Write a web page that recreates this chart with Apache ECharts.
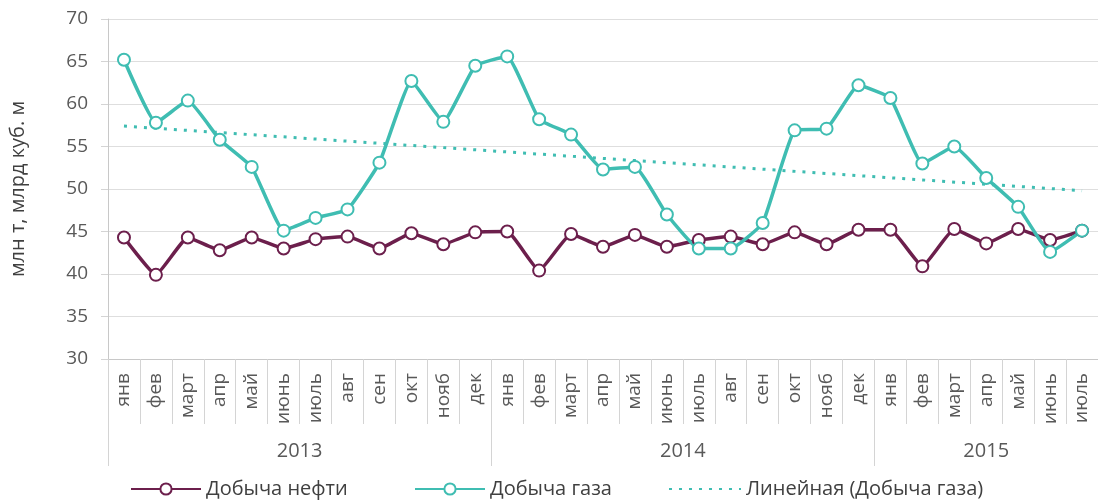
<!DOCTYPE html>
<html>
<head>
<meta charset="utf-8">
<script src="https://cdn.jsdelivr.net/npm/echarts@6/dist/echarts.min.js"></script>
<style>
  html, body { margin: 0; padding: 0; background: #fff; }
  #main { width: 1098px; height: 504px; }
</style>
</head>
<body>
<div id="main"></div>
<script>
var monthNames = ['янв', 'фев', 'март', 'апр', 'май', 'июнь', 'июль', 'авг', 'сен', 'окт', 'нояб', 'дек'];
var years = ['2013', '2014', '2015'];
var yearCounts = [12, 12, 7];

var oil = [44.3, 39.9, 44.3, 42.8, 44.3, 43.0, 44.1, 44.4, 43.0, 44.8, 43.5, 44.9,
           45.0, 40.4, 44.7, 43.2, 44.6, 43.2, 44.0, 44.4, 43.5, 44.9, 43.5, 45.2,
           45.2, 40.9, 45.3, 43.6, 45.3, 44.0, 45.1];
var gas = [65.2, 57.8, 60.4, 55.8, 52.6, 45.1, 46.6, 47.6, 53.1, 62.7, 57.9, 64.5,
           65.6, 58.2, 56.4, 52.3, 52.6, 47.0, 43.0, 43.0, 46.0, 56.9, 57.1, 62.2,
           60.7, 53.0, 55.0, 51.3, 47.9, 42.6, 45.1];
// концы линии тренда
var trendEnds = [57.4, 49.8];

var oilColor = '#6c1f4c';
var gasColor = '#3fbdb2';
var textColor = '#595959';
var font = 'Open Sans';

// категории: год-месяц
var categories = [];
years.forEach(function (y, i) {
  for (var m = 0; m < yearCounts[i]; m++) categories.push(y + '-' + monthNames[m]);
});
var total = categories.length;

// позиции подписей годов и разделителей
var yearTicks = [], yearCenters = [], acc = 0;
yearCounts.forEach(function (c) {
  yearTicks.push(acc);
  yearCenters.push(acc + c / 2);
  acc += c;
});

var trend = categories.map(function (c, i) {
  if (i === 0) return trendEnds[0];
  if (i === total - 1) return trendEnds[1];
  return null;
});

var myChart = echarts.init(document.getElementById('main'));

var legendText = { color: '#404040', fontFamily: font, fontSize: 20 };

var option = {
  animation: false,
  grid: { left: 108, top: 19, right: -3.6, bottom: 145 },
  xAxis: [{
    type: 'category',
    data: categories,
    boundaryGap: true,
    axisLine: { lineStyle: { color: '#c8c8c8' } },
    axisTick: { show: true, interval: 0, length: 65, lineStyle: { color: '#d4d4d4' } },
    axisLabel: {
      interval: 0, rotate: 90, margin: 14,
      color: textColor, fontFamily: font, fontSize: 19,
      formatter: function (v) { return v.split('-')[1]; }
    }
  }, {
    type: 'value',
    position: 'bottom',
    min: 0, max: total,
    axisLine: { show: false },
    splitLine: { show: false },
    axisTick: { show: true, customValues: yearTicks, length: 107, lineStyle: { color: '#d4d4d4' } },
    axisLabel: {
      customValues: yearCenters, margin: 82,
      color: textColor, fontFamily: font, fontSize: 20,
      formatter: function (v) { return years[yearCenters.indexOf(v)]; }
    }
  }],
  yAxis: {
    type: 'value',
    min: 30, max: 70, interval: 5,
    name: 'млн т, млрд куб. м',
    nameLocation: 'middle',
    nameGap: 80,
    nameTextStyle: { color: '#404040', fontFamily: font, fontSize: 20 },
    axisLine: { show: true, lineStyle: { color: '#c8c8c8' } },
    axisTick: { show: true, length: 7, lineStyle: { color: '#d4d4d4' } },
    axisLabel: { color: textColor, fontFamily: font, fontSize: 19, margin: 20 },
    splitLine: { lineStyle: { color: '#dedede' } }
  },
  legend: [{
    data: ['Добыча нефти'], left: 130, top: 479, padding: 0,
    itemWidth: 70, itemHeight: 14, textStyle: legendText
  }, {
    data: ['Добыча газа'], left: 414, top: 479, padding: 0,
    itemWidth: 70, itemHeight: 14, textStyle: legendText
  }, {
    data: [{ name: 'Линейная (Добыча газа)', itemStyle: { opacity: 0 } }],
    left: 668, top: 479, padding: 0,
    itemWidth: 72, itemHeight: 14, textStyle: legendText
  }],
  series: [{
    name: 'Добыча нефти',
    type: 'line',
    data: oil,
    smooth: 0.12,
    symbol: 'emptyCircle',
    symbolSize: 12,
    color: oilColor,
    lineStyle: { width: 3.5, color: oilColor },
    itemStyle: { color: oilColor, borderWidth: 3 }
  }, {
    name: 'Добыча газа',
    type: 'line',
    data: gas,
    smooth: 0.12,
    symbol: 'emptyCircle',
    symbolSize: 12,
    color: gasColor,
    lineStyle: { width: 3.5, color: gasColor },
    itemStyle: { color: gasColor, borderWidth: 3 }
  }, {
    name: 'Линейная (Добыча газа)',
    type: 'line',
    data: trend,
    connectNulls: true,
    symbol: 'none',
    color: gasColor,
    lineStyle: { width: 3, color: gasColor, type: [3, 7] }
  }]
};

myChart.setOption(option);
</script>
</body>
</html>
